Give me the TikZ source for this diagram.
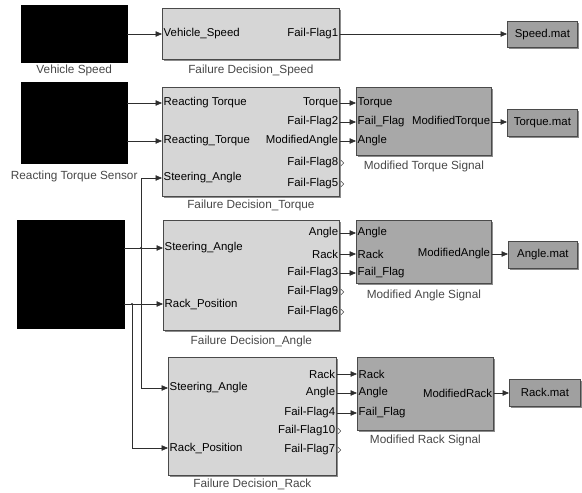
\documentclass[tikz,border=0pt]{standalone}
\usepackage{fontspec}
\setmainfont{Liberation Sans}
\usepackage{tikz}
\usetikzlibrary{arrows.meta, positioning, shadows}
\definecolor{simEdge}{HTML}{4A4A4A}
\definecolor{simLight}{HTML}{D6D6D6}
\definecolor{simMid}{HTML}{A8A8A8}
\definecolor{simMat}{HTML}{A0A0A0}
\definecolor{simWire}{HTML}{2E2E2E}
\definecolor{simCap}{HTML}{474747}
\tikzset{
  sim/box/.style      = {rectangle, draw=simEdge, line width=0.8pt, inner sep=0pt,
                         anchor=north west,
                         drop shadow={shadow xshift=1.2pt, shadow yshift=-1.2pt,
                                      opacity=0.45, fill=black}},
  sim/source/.style   = {rectangle, draw=black, fill=black, inner sep=0pt, anchor=north west},
  sim/fd/.style       = {sim/box, fill=simLight},
  sim/mod/.style      = {sim/box, fill=simMid},
  sim/mat/.style      = {sim/box, fill=simMat, text=black},
  sim/port/.style     = {inner sep=1.5pt, text=black},
  sim/caption/.style  = {inner sep=1pt, text=simCap, font=\fontsize{11.8}{13}\selectfont},
  sim/wire/.style     = {-{Triangle[length=6.5pt, width=5.5pt]}, line width=0.6pt, draw=simWire},
  sim/openport/.style = {line width=0.5pt, draw=simEdge},
}
\begin{document}
\begin{tikzpicture}[x=1pt, y=-1pt, every node/.style={font=\fontsize{11.4}{12}\selectfont}]
  \useasboundingbox (0,0) rectangle (582,493);
  % source blocks
  \node[sim/source, minimum width=106pt, minimum height=57pt]  (srcSpeed)  at (21, 5)   {};
  \node[sim/source, minimum width=106pt, minimum height=81pt]  (srcTorque) at (21, 82)  {};
  \node[sim/source, minimum width=107pt, minimum height=108pt] (srcAngle)  at (17, 220) {};
  \node[sim/caption, below=1pt of srcSpeed]  (srcSpeed-cap)  {Vehicle Speed};
  \node[sim/caption, below=6pt of srcTorque] (srcTorque-cap) {Reacting Torque Sensor};
  % failure decision blocks
  \node[sim/fd, minimum width=177pt, minimum height=51pt]  (fds) at (162, 8)   {};
  \node[sim/fd, minimum width=177pt, minimum height=109pt] (fdt) at (162, 87)  {};
  \node[sim/fd, minimum width=176pt, minimum height=110pt] (fda) at (163, 220) {};
  \node[sim/fd, minimum width=168pt, minimum height=118pt] (fdr) at (168, 357) {};
  \node[sim/caption, below=4pt of fds] (fds-cap) {Failure Decision\_Speed};
  \node[sim/caption, below=2pt of fdt] (fdt-cap) {Failure Decision\_Torque};
  \node[sim/caption, below=4pt of fda] (fda-cap) {Failure Decision\_Angle};
  \node[sim/caption, below=2pt of fdr] (fdr-cap) {Failure Decision\_Rack};
  % modified signal blocks
  \node[sim/mod, minimum width=135pt, minimum height=68pt] (mt) at (356, 87)  {};
  \node[sim/mod, minimum width=135pt, minimum height=63pt] (ma) at (356, 220) {};
  \node[sim/mod, minimum width=136pt, minimum height=73pt] (mr) at (357, 357) {};
  \node[sim/caption, below=4pt of mt] (mt-cap) {Modified Torque Signal};
  \node[sim/caption, below=5pt of ma] (ma-cap) {Modified Angle Signal};
  \node[sim/caption, below=3pt of mr] (mr-cap) {Modified Rack Signal};
  % mat file sinks
  \node[sim/mat, minimum width=70pt, minimum height=26pt] (smat) at (507, 21)  {Speed.mat};
  \node[sim/mat, minimum width=70pt, minimum height=27pt] (tmat) at (507, 109) {Torque.mat};
  \node[sim/mat, minimum width=69pt, minimum height=27pt] (amat) at (508, 241) {Angle.mat};
  \node[sim/mat, minimum width=71pt, minimum height=27pt] (rmat) at (509, 379) {Rack.mat};
  % ports
  \coordinate (srcSpeed-o)  at (srcSpeed.east |- 0,34);
  \coordinate (srcTorque-o1) at (srcTorque.east |- 0,103);
  \coordinate (srcTorque-o2) at (srcTorque.east |- 0,141);
  \coordinate (srcAngle-o1) at (srcAngle.east |- 0,248);
  \coordinate (srcAngle-o2) at (srcAngle.east |- 0,304);
  \coordinate (fds-i)  at (fds.west |- 0,34);
  \coordinate (fds-o)  at (fds.east |- 0,34);
  \coordinate (fdt-i1) at (fdt.west |- 0,103);
  \coordinate (fdt-i2) at (fdt.west |- 0,141);
  \coordinate (fdt-i3) at (fdt.west |- 0,178);
  \coordinate (fdt-o1) at (fdt.east |- 0,103);
  \coordinate (fdt-o2) at (fdt.east |- 0,122);
  \coordinate (fdt-o3) at (fdt.east |- 0,141);
  \coordinate (fdt-o4) at (fdt.east |- 0,163);
  \coordinate (fdt-o5) at (fdt.east |- 0,184);
  \coordinate (fda-i1) at (fda.west |- 0,248);
  \coordinate (fda-i2) at (fda.west |- 0,304);
  \coordinate (fda-o1) at (fda.east |- 0,233);
  \coordinate (fda-o2) at (fda.east |- 0,254);
  \coordinate (fda-o3) at (fda.east |- 0,273);
  \coordinate (fda-o4) at (fda.east |- 0,292);
  \coordinate (fda-o5) at (fda.east |- 0,312);
  \coordinate (fdr-i1) at (fdr.west |- 0,388);
  \coordinate (fdr-i2) at (fdr.west |- 0,448);
  \coordinate (fdr-o1) at (fdr.east |- 0,374);
  \coordinate (fdr-o2) at (fdr.east |- 0,393);
  \coordinate (fdr-o3) at (fdr.east |- 0,413);
  \coordinate (fdr-o4) at (fdr.east |- 0,431);
  \coordinate (fdr-o5) at (fdr.east |- 0,450);
  \coordinate (mt-i1) at (mt.west |- 0,103);
  \coordinate (mt-i2) at (mt.west |- 0,122);
  \coordinate (mt-i3) at (mt.west |- 0,141);
  \coordinate (mt-o)  at (mt.east |- 0,122);
  \coordinate (ma-i1) at (ma.west |- 0,233);
  \coordinate (ma-i2) at (ma.west |- 0,254);
  \coordinate (ma-i3) at (ma.west |- 0,273);
  \coordinate (ma-o)  at (ma.east |- 0,254);
  \coordinate (mr-i1) at (mr.west |- 0,374);
  \coordinate (mr-i2) at (mr.west |- 0,393);
  \coordinate (mr-i3) at (mr.west |- 0,413);
  \coordinate (mr-o)  at (mr.east |- 0,393);
  \coordinate (smat-i) at (smat.west |- 0,34);
  \coordinate (tmat-i) at (tmat.west |- 0,122);
  \coordinate (amat-i) at (amat.west |- 0,254);
  \coordinate (rmat-i) at (rmat.west |- 0,393);
  \coordinate (jSteer) at (141, 248);
  \coordinate (jRack)  at (132, 304);
  % port labels
  \node[sim/port, anchor=west] (fds-il)  at (fds-i)  {Vehicle\_Speed};
  \node[sim/port, anchor=east] (fds-ol)  at (fds-o)  {Fail-Flag1};
  \node[sim/port, anchor=west] (fdt-i1l) at (fdt-i1) {Reacting Torque};
  \node[sim/port, anchor=west] (fdt-i2l) at (fdt-i2) {Reacting\_Torque};
  \node[sim/port, anchor=west] (fdt-i3l) at (fdt-i3) {Steering\_Angle};
  \node[sim/port, anchor=east] (fdt-o1l) at (fdt-o1) {Torque};
  \node[sim/port, anchor=east] (fdt-o2l) at (fdt-o2) {Fail-Flag2};
  \node[sim/port, anchor=east] (fdt-o3l) at (fdt-o3) {ModifiedAngle};
  \node[sim/port, anchor=east] (fdt-o4l) at (fdt-o4) {Fail-Flag8};
  \node[sim/port, anchor=east] (fdt-o5l) at (fdt-o5) {Fail-Flag5};
  \node[sim/port, anchor=west] (fda-i1l) at (fda-i1) {Steering\_Angle};
  \node[sim/port, anchor=west] (fda-i2l) at (fda-i2) {Rack\_Position};
  \node[sim/port, anchor=east] (fda-o1l) at (fda-o1) {Angle};
  \node[sim/port, anchor=east] (fda-o2l) at (fda-o2) {Rack};
  \node[sim/port, anchor=east] (fda-o3l) at (fda-o3) {Fail-Flag3};
  \node[sim/port, anchor=east] (fda-o4l) at (fda-o4) {Fail-Flag9};
  \node[sim/port, anchor=east] (fda-o5l) at (fda-o5) {Fail-Flag6};
  \node[sim/port, anchor=west] (fdr-i1l) at (fdr-i1) {Steering\_Angle};
  \node[sim/port, anchor=west] (fdr-i2l) at (fdr-i2) {Rack\_Position};
  \node[sim/port, anchor=east] (fdr-o1l) at (fdr-o1) {Rack};
  \node[sim/port, anchor=east] (fdr-o2l) at (fdr-o2) {Angle};
  \node[sim/port, anchor=east] (fdr-o3l) at (fdr-o3) {Fail-Flag4};
  \node[sim/port, anchor=east] (fdr-o4l) at (fdr-o4) {Fail-Flag10};
  \node[sim/port, anchor=east] (fdr-o5l) at (fdr-o5) {Fail-Flag7};
  \node[sim/port, anchor=west] (mt-i1l) at (mt-i1) {Torque};
  \node[sim/port, anchor=west] (mt-i2l) at (mt-i2) {Fail\_Flag};
  \node[sim/port, anchor=west] (mt-i3l) at (mt-i3) {Angle};
  \node[sim/port, anchor=east] (mt-ol)  at (mt-o)  {ModifiedTorque};
  \node[sim/port, anchor=west] (ma-i1l) at (ma-i1) {Angle};
  \node[sim/port, anchor=west] (ma-i2l) at (ma-i2) {Rack};
  \node[sim/port, anchor=west] (ma-i3l) at (ma-i3) {Fail\_Flag};
  \node[sim/port, anchor=east] (ma-ol)  at (ma-o)  {ModifiedAngle};
  \node[sim/port, anchor=west] (mr-i1l) at (mr-i1) {Rack};
  \node[sim/port, anchor=west] (mr-i2l) at (mr-i2) {Angle};
  \node[sim/port, anchor=west] (mr-i3l) at (mr-i3) {Fail\_Flag};
  \node[sim/port, anchor=east] (mr-ol)  at (mr-o)  {ModifiedRack};
  % unconnected outputs
  \draw[sim/openport] (fdt-o4) ++(1,-3) -- ++(3,3) -- ++(-3,3);
  \draw[sim/openport] (fdt-o5) ++(1,-3) -- ++(3,3) -- ++(-3,3);
  \draw[sim/openport] (fda-o4) ++(1,-3) -- ++(3,3) -- ++(-3,3);
  \draw[sim/openport] (fda-o5) ++(1,-3) -- ++(3,3) -- ++(-3,3);
  \draw[sim/openport] (fdr-o4) ++(1,-3) -- ++(3,3) -- ++(-3,3);
  \draw[sim/openport] (fdr-o5) ++(1,-3) -- ++(3,3) -- ++(-3,3);
  % signal lines
  \draw[sim/wire] (srcSpeed-o) -- (fds-i);
  \draw[sim/wire] (fds-o) -- (smat-i);
  \draw[sim/wire] (srcTorque-o1) -- (fdt-i1);
  \draw[sim/wire] (srcTorque-o2) -- (fdt-i2);
  \draw[sim/wire] (srcAngle-o1) -- (fda-i1);
  \draw[sim/wire] (srcAngle-o2) -- (fda-i2);
  \draw[sim/wire] (jSteer) |- (fdt-i3);
  \draw[sim/wire] (jSteer) |- (fdr-i1);
  \draw[sim/wire] (jRack) |- (fdr-i2);
  \fill[simWire] (jSteer) circle (1.2pt);
  \fill[simWire] (jRack) circle (1.2pt);
  \draw[sim/wire] (fdt-o1) -- (mt-i1);
  \draw[sim/wire] (fdt-o2) -- (mt-i2);
  \draw[sim/wire] (fdt-o3) -- (mt-i3);
  \draw[sim/wire] (fda-o1) -- (ma-i1);
  \draw[sim/wire] (fda-o2) -- (ma-i2);
  \draw[sim/wire] (fda-o3) -- (ma-i3);
  \draw[sim/wire] (fdr-o1) -- (mr-i1);
  \draw[sim/wire] (fdr-o2) -- (mr-i2);
  \draw[sim/wire] (fdr-o3) -- (mr-i3);
  \draw[sim/wire] (mt-o) -- (tmat-i);
  \draw[sim/wire] (ma-o) -- (amat-i);
  \draw[sim/wire] (mr-o) -- (rmat-i);
\end{tikzpicture}
\end{document}
